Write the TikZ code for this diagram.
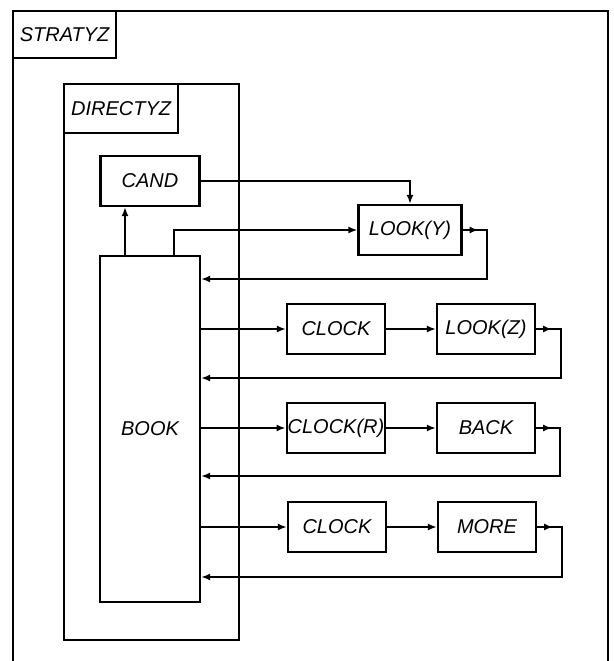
\documentclass[tikz,border=0pt]{standalone}
\usepackage{fontspec}
\setmainfont{Liberation Sans}
\usetikzlibrary{arrows.meta,calc,positioning}

\begin{document}
\begin{tikzpicture}[x=1pt,y=-1pt,line width=2.2pt,
  blk/.style={draw,minimum width=#1,minimum height=50pt,inner sep=1pt,
              font=\fontsize{20}{23}\selectfont\itshape},blk/.default=98pt,
  frm/.style={draw,anchor=north west,inner sep=0pt},
  tag/.style={draw,anchor=north west,inner sep=1pt,font=\fontsize{20}{23}\selectfont\itshape},
  arr/.style={-{Latex[length=9pt,width=7pt]}}]
  \useasboundingbox (0,0) rectangle (613,661);
  % frames
  \node[frm,minimum width=595pt,minimum height=653pt] (stratyz) at (12,10) {};
  \node[tag,minimum width=103pt,minimum height=47pt] (stratyzlbl) at (12,10) {STRATYZ};
  \node[frm,minimum width=175pt,minimum height=556pt] (directyz) at (63,83) {};
  \node[tag,minimum width=114pt,minimum height=49pt] (directyzlbl) at (63,83) {DIRECTYZ};
  % blocks
  \node[blk=99pt] (cand) at (150,181) {CAND};
  \node[blk=100pt,minimum height=346pt] (book) at (150,429) {BOOK};
  \node[blk=103pt] (looky) at (410,230) {LOOK(Y)};
  \node[blk] (clockA) at (336,329) {CLOCK};
  \node[blk] (lookz) at (486,329) {LOOK(Z)};
  \node[blk] (clockR) at (336,428) {CLOCK(R)};
  \node[blk] (back) at (486,428) {BACK};
  \node[blk] (clockB) at (337,527) {CLOCK};
  \node[blk] (more) at (487,527) {MORE};
  % upper connectors
  \draw[arr] ([xshift=-25pt]book.north) -- ([xshift=-25pt]cand.south);
  \draw[arr] (cand.east) -| (looky.north);
  \draw[arr] ([xshift=24pt]book.north) |- (looky.west);
  \draw[arr] (looky.east) -- ++(16,0);
  \draw[arr] (looky.east) -- ++(24,0) |- (book.east |- 0,279);
  % row 1
  \draw[arr] (book.east |- clockA.west) -- (clockA.west);
  \draw[arr] (clockA) -- (lookz);
  \draw[arr] (lookz.east) -- ++(16,0);
  \draw[arr] (lookz.east) -- ++(25,0) |- (book.east |- 0,378);
  % row 2
  \draw[arr] (book.east |- clockR.west) -- (clockR.west);
  \draw[arr] (clockR) -- (back);
  \draw[arr] (back.east) -- ++(16,0);
  \draw[arr] (back.east) -- ++(24,0) |- (book.east |- 0,476);
  % row 3
  \draw[arr] (book.east |- clockB.west) -- (clockB.west);
  \draw[arr] (clockB) -- (more);
  \draw[arr] (more.east) -- ++(16,0);
  \draw[arr] (more.east) -- ++(25,0) |- (book.east |- 0,577);
\end{tikzpicture}
\end{document}
